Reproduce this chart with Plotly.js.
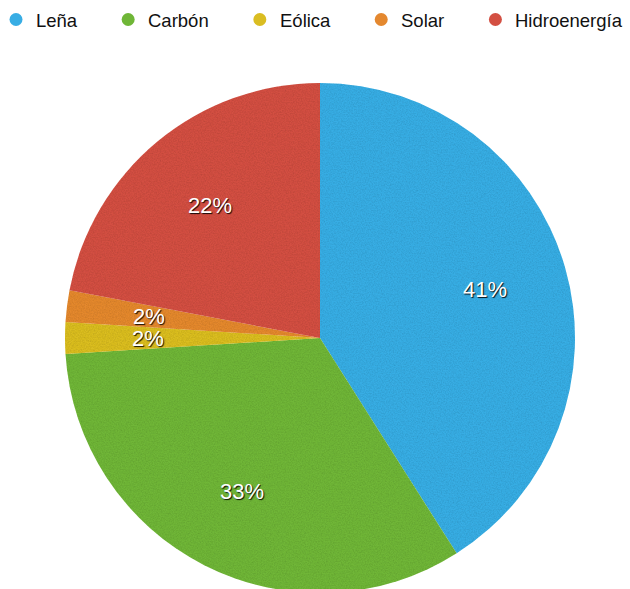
<!DOCTYPE html>
<html>
<head>
<meta charset="utf-8">
<script src="https://cdn.plot.ly/plotly-3.0.1.min.js"></script>
<style>
  html, body { margin: 0; padding: 0; overflow: hidden; background: #fff; }
  #chart { width: 630px; height: 600px; }
</style>
</head>
<body>
<div id="chart"></div>
<script>
// Energy sources and their share (%)
const sources = ['Leña', 'Carbón', 'Eólica', 'Solar', 'Hidroenergía'];
const shares = [41, 33, 2, 2, 22];
const colors = ['#38ade4', '#6fb637', '#dabd22', '#e4882f', '#d34f42'];

const W = 630, H = 600;
// pie box in pixels: centre (320, 338), radius 255
const cx = 320, cy = 338, R = 255;
const FONT = 'Liberation Sans, Arial, Helvetica, sans-serif';

const pie = {
  type: 'pie',
  labels: sources,
  values: shares,
  sort: false,
  direction: 'clockwise',
  rotation: 0,
  marker: { colors: colors, line: { width: 0 } },
  textinfo: 'none',
  hoverinfo: 'label+percent',
  showlegend: false,
  domain: { x: [(cx - R) / W, (cx + R) / W], y: [1 - (cy + R) / H, 1 - (cy - R) / H] }
};

// Percentage labels placed along each slice's mid angle
const total = shares.reduce((a, b) => a + b, 0);
const annotations = [];
let acc = 0;
shares.forEach((v, i) => {
  const mid = (acc + v / 2) / total * 2 * Math.PI;
  acc += v;
  const r = 0.675 * R;
  const px = cx + r * Math.sin(mid);
  const py = cy - r * Math.cos(mid);
  annotations.push({
    xref: 'paper', yref: 'paper', x: px / W, y: 1 - py / H,
    text: v + '%', showarrow: false, xanchor: 'center', yanchor: 'middle',
    font: { family: FONT, size: 22, color: '#ffffff', shadow: '1px 1px 1px rgba(0,0,0,0.9)' }
  });
});

// Legend row: coloured dots followed by names
const ctx = document.createElement('canvas').getContext('2d');
const LEG_SIZE = 18.5;
ctx.font = LEG_SIZE + 'px ' + FONT;
const shapes = [];
let dotX = 16;
const legY = 19.5;
sources.forEach((name, i) => {
  shapes.push({
    type: 'circle', xref: 'paper', yref: 'paper',
    x0: (dotX - 6.5) / W, x1: (dotX + 6.5) / W,
    y0: 1 - (legY + 6.5) / H, y1: 1 - (legY - 6.5) / H,
    fillcolor: colors[i], line: { width: 0 }
  });
  const tx = dotX + 20;
  annotations.push({
    xref: 'paper', yref: 'paper', x: tx / W, y: 1 - (legY + 1) / H,
    text: name, showarrow: false, xanchor: 'left', yanchor: 'middle',
    xshift: -2,
    font: { family: FONT, size: LEG_SIZE, color: '#111111' }
  });
  dotX = tx + ctx.measureText(name).width + 51;
});

const layout = {
  width: W, height: H,
  margin: { l: 0, r: 0, t: 0, b: 0 },
  paper_bgcolor: '#ffffff',
  showlegend: false,
  annotations: annotations,
  shapes: shapes
};

Plotly.newPlot('chart', [pie], layout, { displayModeBar: false, staticPlot: true }).then(gd => {
  // light paper-grain texture on the slices
  const svg = gd.querySelector('svg.main-svg');
  const NS = 'http://www.w3.org/2000/svg';
  let defs = svg.querySelector('defs');
  if (!defs) { defs = document.createElementNS(NS, 'defs'); svg.insertBefore(defs, svg.firstChild); }
  const f = document.createElementNS(NS, 'filter');
  f.setAttribute('id', 'slice-grain');
  f.setAttribute('x', '0'); f.setAttribute('y', '0');
  f.setAttribute('width', '1'); f.setAttribute('height', '1');
  f.innerHTML =
    '<feTurbulence type="fractalNoise" baseFrequency="0.75" numOctaves="2" seed="7" result="noise"/>' +
    '<feColorMatrix in="noise" type="matrix" values="0 0 0 0 0  0 0 0 0 0  0 0 0 0 0  0.4 0 0 0 -0.14" result="dark"/>' +
    '<feComposite in="dark" in2="SourceGraphic" operator="in" result="clipped"/>' +
    '<feMerge><feMergeNode in="SourceGraphic"/><feMergeNode in="clipped"/></feMerge>';
  defs.appendChild(f);
  gd.querySelectorAll('.slice path.surface').forEach(p => p.setAttribute('filter', 'url(#slice-grain)'));
});
</script>
</body>
</html>
